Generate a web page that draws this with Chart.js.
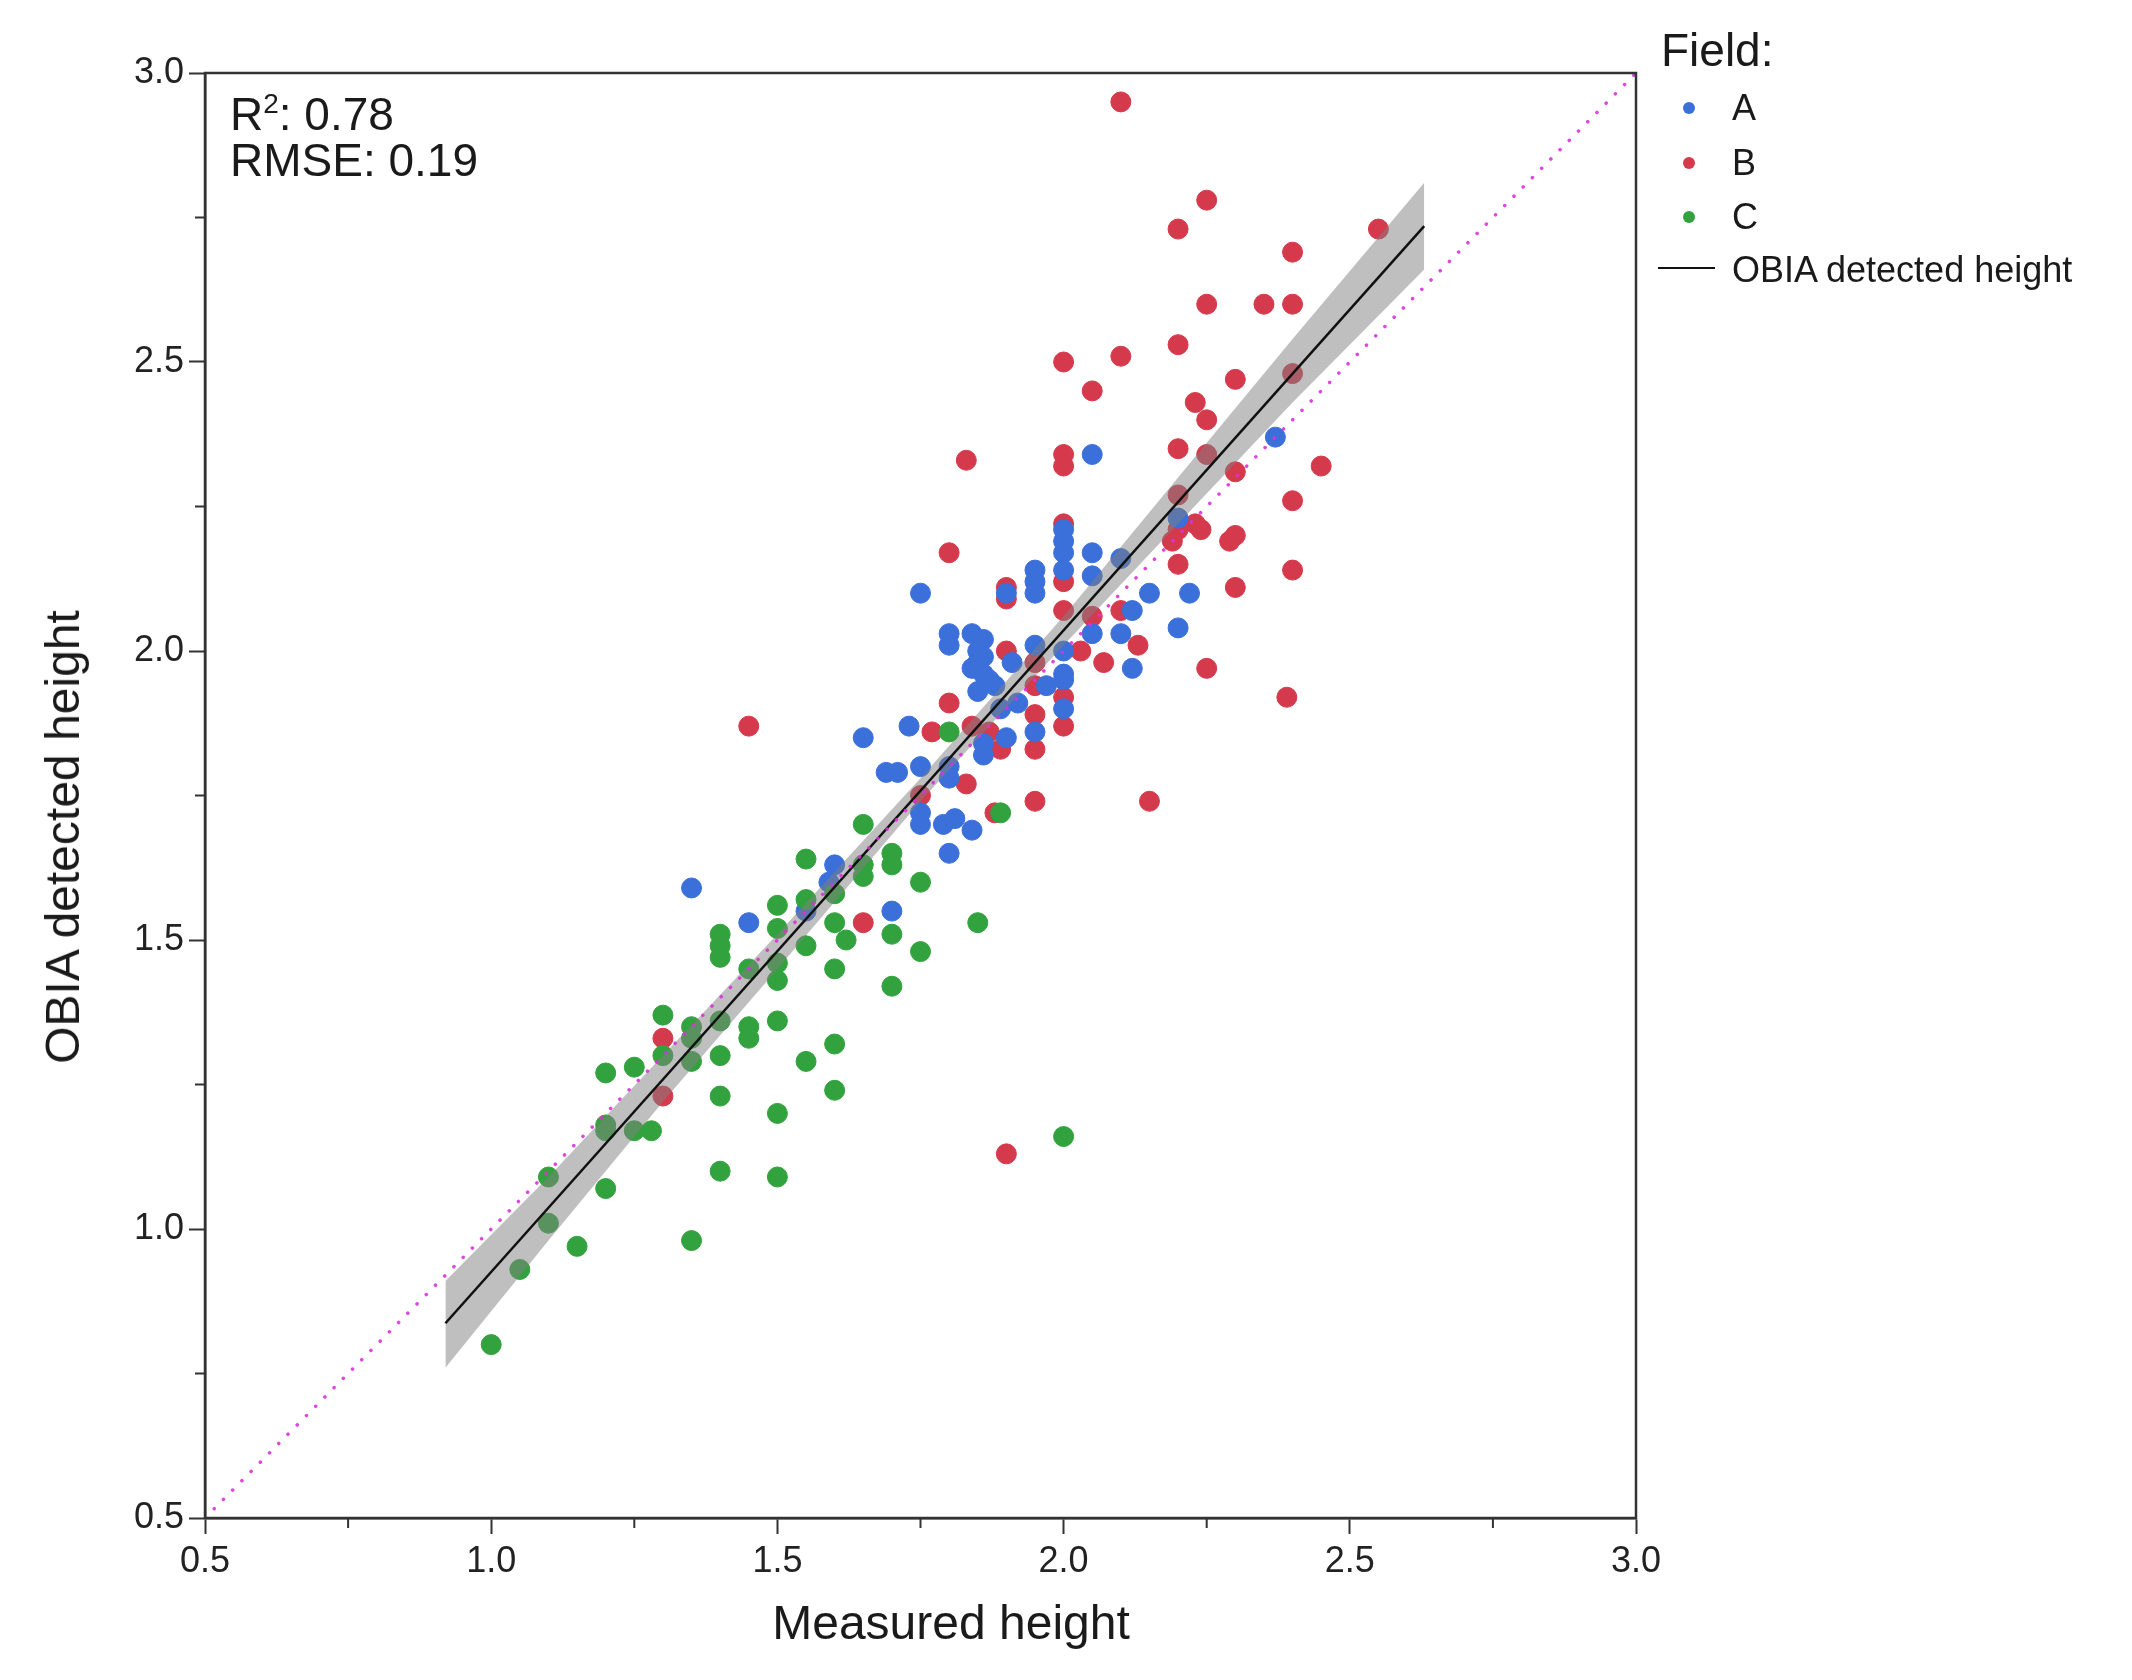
<!DOCTYPE html>
<html>
<head>
<meta charset="utf-8">
<title>OBIA detected height vs measured height</title>
<script src="https://cdn.jsdelivr.net/npm/chart.js@4.4.1/dist/chart.umd.min.js"></script>
<style>
  html, body { margin: 0; padding: 0; background: #fff; }
  #wrap { position: relative; width: 2132px; height: 1680px; font-family: "Liberation Sans", Arial, sans-serif; color: #1a1a1a; }
  #chart { position: absolute; left: 0; top: 0; }
  .txt { position: absolute; white-space: nowrap; }
  .stat { left: 230px; font-size: 46px; line-height: 46px; }
  .stat sup { font-size: 28px; line-height: 0; vertical-align: 17px; }
  .leg { left: 1732px; font-size: 36px; line-height: 36px; }
  .dot { position: absolute; left: 1683px; width: 12px; height: 12px; border-radius: 50%; }
  .axis-title { font-size: 48px; line-height: 48px; }
</style>
</head>
<body>
<div id="wrap">
  <canvas id="chart" width="2132" height="1680"></canvas>

  <div class="txt axis-title" style="left:951px; top:1599px; transform:translateX(-50%)">Measured height</div>
  <div class="txt axis-title" style="left:63px; top:837px; transform:translate(-50%,-50%) rotate(-90deg)">OBIA detected height</div>

  <div class="txt stat" style="top:91px">R<sup>2</sup>: 0.78</div>
  <div class="txt stat" style="top:137px">RMSE: 0.19</div>

  <div class="txt" style="left:1661px; top:27px; font-size:46px; line-height:46px">Field:</div>
  <div class="dot" style="top:102px; background:#3b6fda"></div>
  <div class="txt leg" style="top:90px">A</div>
  <div class="dot" style="top:157px; background:#d53a4c"></div>
  <div class="txt leg" style="top:145px">B</div>
  <div class="dot" style="top:211px; background:#32a23e"></div>
  <div class="txt leg" style="top:199px">C</div>
  <div style="position:absolute; left:1658px; top:267px; width:57px; height:2px; background:#111"></div>
  <div class="txt leg" style="top:252px">OBIA detected height</div>
</div>

<script>
// measured height, OBIA detected height
const fieldA = [
  [1.35, 1.59], [1.45, 1.53], [1.55, 1.55], [1.60, 1.63], [1.59, 1.60],
  [1.65, 1.85], [1.70, 1.55], [1.69, 1.79], [1.71, 1.79], [1.73, 1.87],
  [1.75, 1.80], [1.75, 1.72], [1.75, 1.70], [1.75, 2.10], [1.79, 1.70],
  [1.81, 1.71], [1.84, 1.69], [1.80, 1.65], [1.80, 1.80], [1.80, 1.78],
  [1.80, 2.03], [1.80, 2.01], [1.84, 2.03], [1.86, 2.02], [1.85, 2.00],
  [1.86, 1.99], [1.85, 1.98], [1.84, 1.97], [1.86, 1.96], [1.87, 1.95],
  [1.88, 1.94], [1.85, 1.93], [1.86, 1.84], [1.90, 1.85], [1.86, 1.82],
  [1.89, 1.90], [1.92, 1.91], [1.91, 1.98], [1.90, 2.10], [1.95, 2.14],
  [1.95, 2.12], [1.95, 2.10], [1.95, 2.01], [1.95, 1.86], [1.97, 1.94],
  [2.00, 2.21], [2.00, 2.19], [2.00, 2.17], [2.00, 2.14], [2.00, 2.00],
  [2.00, 1.96], [2.00, 1.95], [2.00, 1.90], [2.05, 2.34], [2.05, 2.17],
  [2.05, 2.13], [2.05, 2.03], [2.10, 2.16], [2.10, 2.03], [2.12, 2.07],
  [2.12, 1.97], [2.15, 2.10], [2.20, 2.23], [2.20, 2.04], [2.22, 2.10],
  [2.37, 2.37]
];

const fieldB = [
  [1.30, 1.33], [1.30, 1.23], [1.45, 1.87], [1.65, 1.53], [1.75, 1.75],
  [1.77, 1.86], [1.80, 1.91], [1.80, 2.17], [1.83, 1.77], [1.83, 2.33],
  [1.84, 1.87], [1.87, 1.86], [1.88, 1.72], [1.89, 1.83], [1.90, 1.13],
  [1.90, 2.11], [1.90, 2.09], [1.90, 2.00], [1.95, 1.98], [1.95, 1.94],
  [1.95, 1.89], [1.95, 1.83], [1.95, 1.74], [2.00, 2.50], [2.00, 2.34],
  [2.00, 2.32], [2.00, 2.22], [2.00, 2.12], [2.00, 2.07], [2.00, 1.92],
  [2.00, 1.87], [2.03, 2.00], [2.05, 2.45], [2.05, 2.06], [2.07, 1.98],
  [2.10, 2.95], [2.10, 2.51], [2.10, 2.07], [2.13, 2.01], [2.15, 1.74],
  [2.20, 2.73], [2.20, 2.53], [2.20, 2.35], [2.20, 2.27], [2.20, 2.21],
  [2.20, 2.15], [2.19, 2.19], [2.23, 2.43], [2.23, 2.22], [2.24, 2.21],
  [2.25, 2.78], [2.25, 2.60], [2.25, 2.40], [2.25, 2.34], [2.25, 1.97],
  [2.29, 2.19], [2.30, 2.47], [2.30, 2.31], [2.30, 2.20], [2.30, 2.11],
  [2.35, 2.60], [2.39, 1.92], [2.40, 2.69], [2.40, 2.60], [2.40, 2.48],
  [2.40, 2.26], [2.40, 2.14], [2.45, 2.32], [2.55, 2.73]
];

const fieldC = [
  [1.00, 0.80], [1.05, 0.93], [1.10, 1.09], [1.10, 1.01], [1.15, 0.97],
  [1.20, 1.27], [1.20, 1.18], [1.20, 1.17], [1.20, 1.07], [1.25, 1.28],
  [1.25, 1.17], [1.28, 1.17], [1.30, 1.37], [1.30, 1.30], [1.35, 1.35],
  [1.35, 1.33], [1.35, 1.29], [1.35, 0.98], [1.40, 1.51], [1.40, 1.49],
  [1.40, 1.47], [1.40, 1.36], [1.40, 1.30], [1.40, 1.23], [1.40, 1.10],
  [1.45, 1.45], [1.45, 1.35], [1.45, 1.33], [1.50, 1.56], [1.50, 1.52],
  [1.50, 1.46], [1.50, 1.43], [1.50, 1.36], [1.50, 1.20], [1.50, 1.09],
  [1.55, 1.64], [1.55, 1.57], [1.55, 1.49], [1.55, 1.29], [1.60, 1.58],
  [1.60, 1.53], [1.62, 1.50], [1.60, 1.45], [1.60, 1.32], [1.60, 1.24],
  [1.65, 1.70], [1.65, 1.63], [1.65, 1.61], [1.70, 1.65], [1.70, 1.63],
  [1.70, 1.51], [1.70, 1.42], [1.75, 1.60], [1.75, 1.48], [1.80, 1.86],
  [1.85, 1.53], [1.89, 1.72], [2.00, 1.16]
];

// fitted line and its confidence band
const fitLine = [[0.92, 0.837], [2.63, 2.735]];
const bandX = [0.92, 1.10, 1.30, 1.50, 1.75, 2.00, 2.20, 2.40, 2.63];
const bandUpper = [0.91, 1.09, 1.30, 1.51, 1.78, 2.06, 2.30, 2.54, 2.81];
const bandLower = [0.76, 0.98, 1.22, 1.45, 1.74, 2.01, 2.22, 2.43, 2.66];

// 1:1 reference line
const identityLine = [[0.5, 0.5], [3.0, 3.0]];

const axisMin = 0.5;
const axisMax = 3.0;
const majorStep = 0.5;
const minorTicks = [0.75, 1.25, 1.75, 2.25, 2.75];

const FONT = '"Liberation Sans", Arial, sans-serif';
const pts = arr => arr.map(([x, y]) => ({ x, y }));

const framePlugin = {
  id: 'frame',
  afterDraw(chart) {
    const { ctx, chartArea: a, scales: { x, y } } = chart;
    ctx.save();
    ctx.strokeStyle = '#333';
    ctx.lineWidth = 2.5;
    ctx.strokeRect(a.left, a.top, a.right - a.left, a.bottom - a.top);
    ctx.lineWidth = 2;
    minorTicks.forEach(v => {
      const px = x.getPixelForValue(v);
      ctx.beginPath(); ctx.moveTo(px, a.bottom); ctx.lineTo(px, a.bottom + 10); ctx.stroke();
      const py = y.getPixelForValue(v);
      ctx.beginPath(); ctx.moveTo(a.left, py); ctx.lineTo(a.left - 10, py); ctx.stroke();
    });
    ctx.restore();
  }
};

const pointSet = (label, data, color, order) => ({
  label, data: pts(data), order,
  backgroundColor: color, borderColor: color, borderWidth: 1,
  pointRadius: 10, pointHoverRadius: 10
});

new Chart(document.getElementById('chart'), {
  type: 'scatter',
  data: {
    datasets: [
      {
        label: '1:1', data: pts(identityLine), order: 0, showLine: true,
        borderColor: 'rgba(218,50,218,0.9)', borderWidth: 3.5,
        borderDash: [0.1, 13], borderCapStyle: 'round', pointRadius: 0
      },
      {
        label: 'OBIA detected height', data: pts(fitLine), order: 1, showLine: true,
        borderColor: '#111', borderWidth: 2.5, pointRadius: 0
      },
      {
        label: 'band upper', data: bandX.map((x, i) => ({ x, y: bandUpper[i] })), order: 2,
        showLine: true, borderWidth: 0, pointRadius: 0,
        backgroundColor: 'rgba(128,128,128,0.5)', fill: '+1'
      },
      {
        label: 'band lower', data: bandX.map((x, i) => ({ x, y: bandLower[i] })), order: 2,
        showLine: true, borderWidth: 0, pointRadius: 0, fill: false
      },
      pointSet('C', fieldC, '#32a23e', 3),
      pointSet('A', fieldA, '#3b6fda', 4),
      pointSet('B', fieldB, '#d53a4c', 5)
    ]
  },
  options: {
    responsive: false,
    maintainAspectRatio: false,
    devicePixelRatio: 1,
    animation: false,
    layout: { padding: { top: 73, right: 496, bottom: 0, left: 0 } },
    plugins: {
      legend: { display: false },
      tooltip: { enabled: false }
    },
    scales: {
      x: {
        type: 'linear', min: axisMin, max: axisMax,
        afterFit: s => { s.height = 162; },
        ticks: {
          stepSize: majorStep, padding: 6, color: '#222',
          font: { size: 36, family: FONT },
          callback: v => Number(v).toFixed(1)
        },
        grid: { drawOnChartArea: false, tickLength: 16, tickWidth: 2, tickColor: '#333' },
        border: { color: '#333', width: 2.5 }
      },
      y: {
        type: 'linear', min: axisMin, max: axisMax,
        afterFit: s => { s.width = 205; },
        ticks: {
          stepSize: majorStep, padding: 5, color: '#222',
          font: { size: 36, family: FONT },
          callback: v => Number(v).toFixed(1)
        },
        grid: { drawOnChartArea: false, tickLength: 16, tickWidth: 2, tickColor: '#333' },
        border: { color: '#333', width: 2.5 }
      }
    }
  },
  plugins: [framePlugin]
});
</script>
</body>
</html>
